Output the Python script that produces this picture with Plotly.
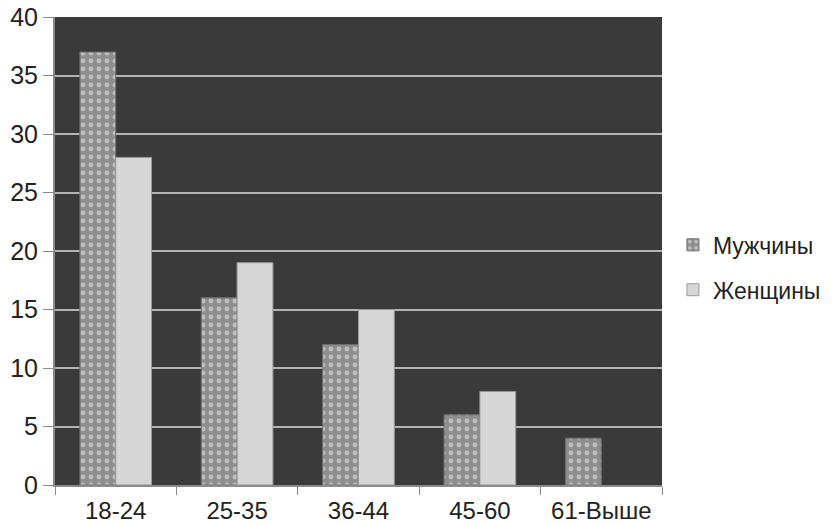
import plotly.graph_objects as go

# Age groups and survey shares (%) by sex
categories = ["18-24", "25-35", "36-44", "45-60", "61-Выше"]
men = [37, 16, 12, 6, 4]
women = [28, 19, 15, 8, None]
y_ticks = [0, 5, 10, 15, 20, 25, 30, 35, 40]

FONT = "Liberation Sans, Arial, sans-serif"

fig = go.Figure()
fig.add_trace(go.Bar(
    x=categories, y=men, name="Мужчины",
    marker=dict(
        color="#8c8c8c",
        line=dict(color="#6f6f6f", width=1),
        pattern=dict(shape=".", fgcolor="#eeeeee", bgcolor="#8e8e8e",
                     size=8, solidity=0.3),
    ),
    legendgroup="m",
))
fig.add_trace(go.Bar(
    x=categories, y=women, name="Женщины",
    marker=dict(color="#d6d6d6", line=dict(color="#9a9a9a", width=1)),
    legendgroup="w",
))

fig.update_layout(
    width=834, height=525,
    margin=dict(l=55, r=172, t=17, b=40, autoexpand=False),
    paper_bgcolor="white",
    plot_bgcolor="#3a3a3a",
    barmode="group",
    bargap=0.41, bargroupgap=0,
    font=dict(family=FONT, size=24, color="#222222"),
    showlegend=True,
    legend=dict(
        x=1.018, y=0.465, xanchor="left", yanchor="middle",
        font=dict(family=FONT, size=23, color="#222222"),
        tracegroupgap=12, itemwidth=30,
        bgcolor="rgba(0,0,0,0)",
    ),
)
fig.update_xaxes(
    type="category",
    showline=True, linecolor="#8a8a8a", linewidth=2,
    ticks="outside", tickson="boundaries", ticklen=8, tickcolor="#8a8a8a",
    tickfont=dict(family=FONT, size=24, color="#222222"),
    ticklabelstandoff=3,
    showgrid=False, mirror=False,
)
fig.update_yaxes(
    range=[0, 40], tickvals=y_ticks,
    showline=True, linecolor="#8a8a8a", linewidth=2,
    ticks="outside", ticklen=10, tickcolor="#8a8a8a",
    tickfont=dict(family=FONT, size=25, color="#222222"),
    showgrid=True, gridcolor="#b4b4b4", gridwidth=2,
    zeroline=False,
)

fig.write_html("out.html")
